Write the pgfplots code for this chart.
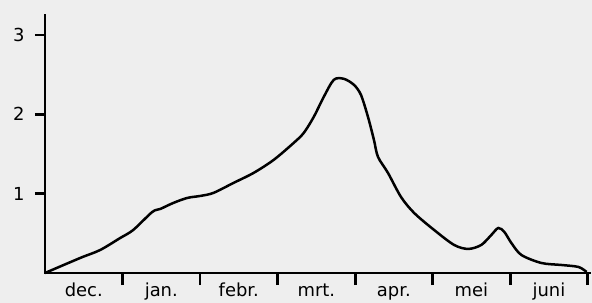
\documentclass[border=0pt]{standalone}
\usepackage{pgfplots}
\pgfplotsset{compat=1.18}
\usepackage{fontspec}
\setmainfont{DejaVu Sans}
\definecolor{paper}{RGB}{238,238,238}
\begin{document}
\begin{tikzpicture}
\fill[paper] (-45bp,-30bp) rectangle (547bp,273bp);
\path[use as bounding box] (-45bp,-30bp) rectangle (547bp,273bp);
\begin{axis}[
  anchor=south west, at={(0,0)},
  scale only axis, width=545bp, height=258bp,
  xmin=0, xmax=7.03, ymin=0, ymax=3.25,
  axis lines*=left,
  axis line style={line width=2.6bp, line cap=rect},
  tick align=outside,
  tick style={black, line width=2.6bp},
  xtick={0.5,1.5,...,6.5},
  xticklabels={dec.,jan.,febr.,mrt.,apr.,mei,juni},
  major x tick style={draw=none},
  minor xtick={1,2,...,7},
  minor tick length=12bp,
  minor x tick style={black, line width=2.8bp},
  ytick={1,2,3},
  major tick length=10bp,
  major y tick style={black, line width=2.6bp},
  /pgf/number format/assume math mode=true,
  tick label style={font=\fontsize{18}{20}\selectfont},
  yticklabel style={anchor=east, xshift=-7bp},
  xticklabel style={anchor=base, yshift=-13bp},
  clip=false,
]
\addplot[black, line width=2.5bp, smooth, tension=0.5] coordinates {
(0,0) (0.453,0.189) (0.712,0.290) (0.970,0.441) (1.138,0.542) (1.384,0.769)
(1.488,0.807) (1.656,0.883) (1.837,0.946) (2.005,0.971) (2.173,1.009)
(2.432,1.135) (2.691,1.261) (2.950,1.425) (3.208,1.639) (3.338,1.765)
(3.467,1.967) (3.596,2.219) (3.726,2.434) (3.855,2.446) (3.984,2.371)
(4.075,2.245) (4.166,1.967) (4.243,1.677) (4.295,1.463) (4.424,1.261)
(4.592,0.958) (4.761,0.757) (5.019,0.542) (5.278,0.353) (5.459,0.303)
(5.627,0.353) (5.757,0.479) (5.847,0.567) (5.925,0.517) (6.016,0.378)
(6.145,0.227) (6.404,0.126) (6.662,0.101) (6.882,0.076) (6.986,0.013)
};
\end{axis}
\end{tikzpicture}
\end{document}
